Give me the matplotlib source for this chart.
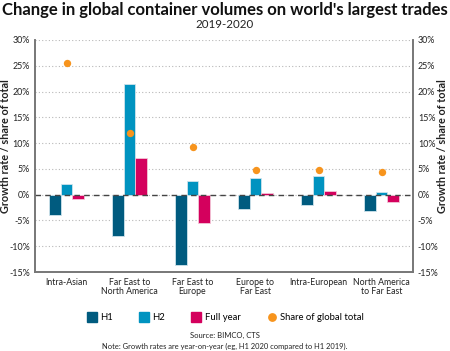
import matplotlib
matplotlib.use("Agg")
import matplotlib.pyplot as plt
import numpy as np
from matplotlib.lines import Line2D
from matplotlib.ticker import FuncFormatter

plt.rcParams['font.family'] = ['Lato', 'DejaVu Sans']

categories = ["Intra-Asian", "Far East to\nNorth America", "Far East to\nEurope",
              "Europe to\nFar East", "Intra-European", "North America\nto Far East"]
h1 = [-3.9, -8.0, -13.6, -2.8, -2.1, -3.2]
h2 = [2.1, 21.4, 2.6, 3.2, 3.6, 0.6]
full_year = [-0.8, 7.2, -5.4, 0.3, 0.65, -1.35]
share = [25.6, 11.9, 9.3, 4.85, 4.85, 4.3]

c_h1 = "#005b7f"
c_h2 = "#0093c0"
c_fy = "#d4005d"
c_sh = "#f7941d"

fig = plt.figure(figsize=(4.5, 3.51), dpi=100)
ax = fig.add_axes([35/450, 1-272/351, 378/450, 232/351])

x = np.arange(len(categories))
w = 0.19
ax.bar(x - w, h1, w, color=c_h1, edgecolor="#cfe3ec", linewidth=0.6, zorder=3)
ax.bar(x, h2, w, color=c_h2, edgecolor="#cfe3ec", linewidth=0.6, zorder=3)
ax.bar(x + w, full_year, w, color=c_fy, edgecolor="#f3c6d8", linewidth=0.6, zorder=3)
ax.plot(x, share, 'o', color=c_sh, markersize=5.3, markeredgewidth=0, zorder=4)

ax.set_xlim(-0.5, 5.5)
ax.set_ylim(-15, 30)
ax.set_yticks(np.arange(-15, 31, 5))
fmt = FuncFormatter(lambda v, p: f"{int(v)}%")
ax.yaxis.set_major_formatter(fmt)
ax.yaxis.grid(True, linestyle=(0, (1, 2)), color="#b8b8b8", linewidth=0.8, zorder=0)
ax.axhline(0, color="#444444", linestyle=(0, (4, 3)), linewidth=1.0, zorder=5)

ax.set_xticks(x)
ax.set_xticklabels(categories, fontsize=6.3, color="#222222", linespacing=1.0)
ax.tick_params(axis='x', length=0, pad=4)
ax.tick_params(axis='y', labelsize=6.4, length=0, pad=3.5, labelcolor="#222222")

ax.spines["top"].set_visible(False)
for s in ["left", "right", "bottom"]:
    ax.spines[s].set_color("#777777")
    ax.spines[s].set_linewidth(1.2)

ax2 = ax.twinx()
ax2.set_ylim(-15, 30)
ax2.set_yticks(np.arange(-15, 31, 5))
ax2.yaxis.set_major_formatter(fmt)
ax2.tick_params(axis='y', labelsize=6.4, length=0, pad=3.5, labelcolor="#222222")
ax2.spines["top"].set_visible(False)
for s in ["left", "right", "bottom"]:
    ax2.spines[s].set_color("#777777")
    ax2.spines[s].set_linewidth(1.2)

ylab = "Growth rate / share of total"
ax.set_ylabel(ylab, fontsize=7.8, fontweight="bold", color="#222222")
ax.yaxis.set_label_coords(-24/378, 0.543)
ax2.set_ylabel(ylab, fontsize=7.8, fontweight="bold", color="#222222", rotation=90)
ax2.yaxis.set_label_coords(1 + 24/378, 0.543)

fig.text(0.5, 1-10/351, "Change in global container volumes on world's largest trades",
         ha="center", va="center", fontsize=12, fontweight="bold", color="#111111")
fig.text(0.5, 1-25/351, "2019-2020", ha="center", va="center", fontsize=8.3, color="#222222")

handles = [Line2D([], [], marker='s', linestyle='none', color=c_h1, markersize=7.2),
           Line2D([], [], marker='s', linestyle='none', color=c_h2, markersize=7.2),
           Line2D([], [], marker='s', linestyle='none', color=c_fy, markersize=7.2),
           Line2D([], [], marker='o', linestyle='none', color=c_sh, markersize=5.3)]
fig.legend(handles, ["H1", "H2", "Full year", "Share of global total"], loc="center",
           bbox_to_anchor=(0.5, 1-318/351), ncol=4, frameon=False, fontsize=6.8,
           handletextpad=0.3, columnspacing=2.7, handlelength=1.2)

fig.text(0.5, 1-335/351, "Source: BIMCO, CTS", ha="center", va="center", fontsize=5.5, color="#222222")
fig.text(0.5, 1-346/351, "Note: Growth rates are year-on-year (eg, H1 2020 compared to H1 2019).",
         ha="center", va="center", fontsize=5.4, color="#222222")

fig.savefig("out.png", dpi=100)
